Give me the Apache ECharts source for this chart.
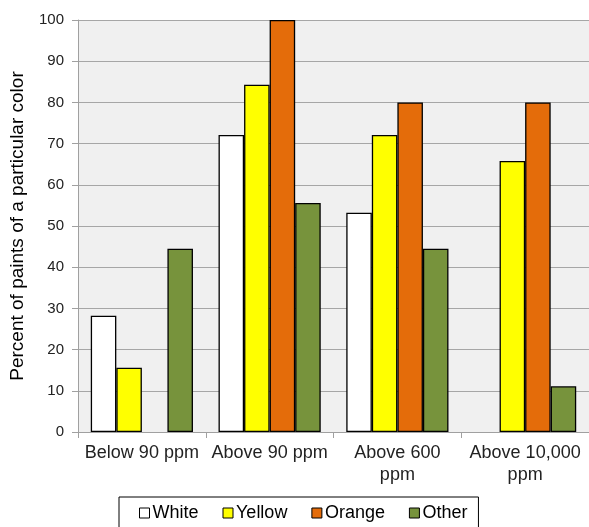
<!DOCTYPE html>
<html><head><meta charset="utf-8">
<script src="https://cdn.jsdelivr.net/npm/echarts@6/dist/echarts.min.js"></script>
<style>html,body{margin:0;padding:0;background:#fff}#c{width:589px;height:527px}</style>
</head><body><div id="c"></div>
<script>
const categories = ['Below 90 ppm', 'Above 90 ppm', 'Above 600\nppm', 'Above 10,000\nppm'];
const white  = [28.2, 72.1, 53.2, null];
const yellow = [15.6, 84.3, 72.1, 65.8];
const orange = [null, 100, 80, 80];
const other  = [44.5, 55.6, 44.5, 11.1];
const yTicks = { min: 0, max: 100, interval: 10 };

const font = 'Liberation Sans, Arial, sans-serif';
const mk = (name, data, color) => ({
  name, type: 'bar', data, barGap: '0%', barCategoryGap: '20%',
  itemStyle: { color, borderColor: '#000', borderWidth: 1.3 }
});
const chart = echarts.init(document.getElementById('c'));
chart.setOption({
  animation: false,
  textStyle: { fontFamily: font },
  grid: { left: 77, top: 20, width: 513, bottom: 95, containLabel: false,
          show: true, backgroundColor: '#f0f0f0', borderWidth: 0 },
  legend: {
    left: 119, top: 497,
    padding: [7, 11, 8, 20], itemGap: 24, itemWidth: 10, itemHeight: 10,
    borderColor: '#000', borderWidth: 1, icon: 'rect',
    itemStyle: { borderColor: '#000', borderWidth: 1 },
    textStyle: { fontFamily: font, fontSize: 18, color: '#000', padding: [0,0,0,-2] },
    data: ['White', 'Yellow', 'Orange', 'Other']
  },
  xAxis: {
    type: 'category', data: categories,
    axisLine: { lineStyle: { color: '#a0a0a0' } },
    axisTick: { show: true, length: 6, lineStyle: { color: '#a0a0a0' } },
    axisLabel: { fontFamily: font, fontSize: 18, color: '#222', margin: 10, lineHeight: 22, interval: 0 }
  },
  yAxis: {
    type: 'value', min: yTicks.min, max: yTicks.max, interval: yTicks.interval,
    name: 'Percent of paints of a particular color', nameLocation: 'middle', nameGap: 51,
    nameTextStyle: { fontFamily: font, fontSize: 19, color: '#000' },
    axisLine: { show: true, lineStyle: { color: '#a0a0a0' } },
    axisTick: { show: true, length: 6, lineStyle: { color: '#a0a0a0' } },
    axisLabel: { fontFamily: font, fontSize: 15, color: '#222', margin: 14 },
    splitLine: { lineStyle: { color: '#a6a6a6', width: 1 } }
  },
  series: [
    mk('White', white, '#ffffff'),
    mk('Yellow', yellow, '#ffff00'),
    mk('Orange', orange, '#e46c0a'),
    mk('Other', other, '#77933c')
  ]
});
</script></body></html>
